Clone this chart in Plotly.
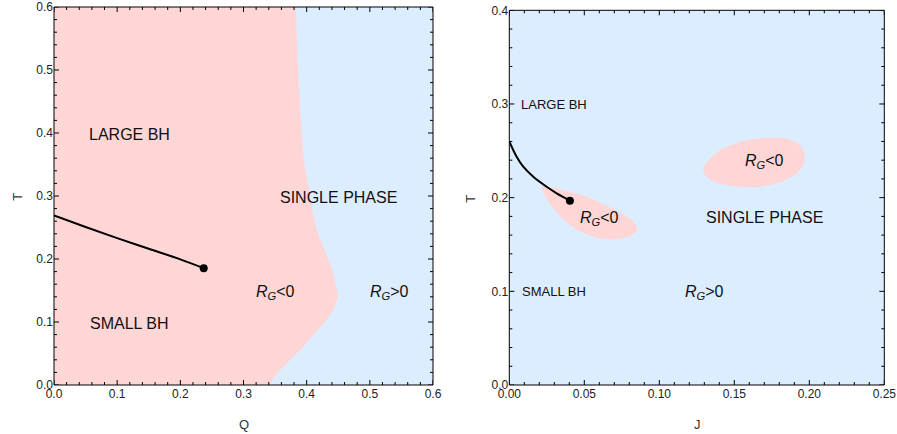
import plotly.graph_objects as go

W, H = 897, 434

# ---------------- data: left panel (Q, T) ----------------
boundary_T = [0.0, 0.020, 0.040, 0.060, 0.082, 0.100, 0.119, 0.140, 0.165, 0.188, 0.215, 0.241, 0.273, 0.294, 0.347, 0.400, 0.452, 0.506, 0.600]
boundary_Q = [0.340, 0.355, 0.374, 0.394, 0.413, 0.429, 0.442, 0.449, 0.445, 0.4385, 0.428, 0.418, 0.410, 0.407, 0.397, 0.392, 0.389, 0.386, 0.383]

coex_Q = [0.0, 0.05, 0.10, 0.15, 0.20, 0.237]
coex_T = [0.269, 0.2508, 0.2332, 0.2163, 0.1995, 0.1855]

# ---------------- data: right panel (J, T) ----------------
coexJ_J = [0.0, 0.0049, 0.0093, 0.016, 0.0249, 0.0316, 0.0404]
coexJ_T = [0.260, 0.2436, 0.2330, 0.2223, 0.2116, 0.2046, 0.1968]

blob1_J = [0.0216, 0.0338, 0.0471, 0.0605, 0.0738, 0.0827, 0.0853, 0.0805, 0.0693, 0.0583, 0.0471, 0.0360, 0.0271, 0.0216]
blob1_T = [0.2117, 0.2088, 0.2036, 0.1948, 0.1840, 0.1750, 0.1654, 0.1588, 0.1554, 0.1572, 0.1640, 0.1768, 0.1935, 0.2117]

blob2_J = [0.1293, 0.1338, 0.1427, 0.1560, 0.1693, 0.1849, 0.1938, 0.1971, 0.1960, 0.1916, 0.1805, 0.1649, 0.1516, 0.1383, 0.1305, 0.1293]
blob2_T = [0.2312, 0.2420, 0.2527, 0.2605, 0.2638, 0.2630, 0.2565, 0.2455, 0.2348, 0.2259, 0.2165, 0.2112, 0.2120, 0.2160, 0.2240, 0.2312]

# ---------------- ticks ----------------
left_x_major = [0.0, 0.1, 0.2, 0.3, 0.4, 0.5, 0.6]
left_x_labels = ["0.0", "0.1", "0.2", "0.3", "0.4", "0.5", "0.6"]
left_y_major = [0.0, 0.1, 0.2, 0.3, 0.4, 0.5, 0.6]
left_y_labels = ["0.0", "0.1", "0.2", "0.3", "0.4", "0.5", "0.6"]
right_x_major = [0.0, 0.05, 0.10, 0.15, 0.20, 0.25]
right_x_labels = ["0.00", "0.05", "0.10", "0.15", "0.20", "0.25"]
right_y_major = [0.0, 0.1, 0.2, 0.3, 0.4]
right_y_labels = ["0.0", "0.1", "0.2", "0.3", "0.4"]
left_x_minor = [round(0.02 * i, 4) for i in range(31) if i % 5 != 0]
left_y_minor = [round(0.02 * i, 4) for i in range(31) if i % 5 != 0]
right_x_minor = [round(0.01 * i, 4) for i in range(26) if i % 5 != 0]
right_y_minor = [round(0.02 * i, 4) for i in range(21) if i % 5 != 0]

RG_NEG = "<i>R</i><sub><i>G</i></sub>&lt;0"
RG_POS = "<i>R</i><sub><i>G</i></sub>&gt;0"

left_labels = [("LARGE BH", 0.120, 0.398, 16), ("SMALL BH", 0.120, 0.098, 16),
               ("SINGLE PHASE", 0.450, 0.297, 16), (RG_NEG, 0.350, 0.147, 16),
               (RG_POS, 0.531, 0.147, 16)]
right_labels = [("LARGE BH", 0.030, 0.299, 13), ("SMALL BH", 0.030, 0.0996, 13),
                ("SINGLE PHASE", 0.170, 0.179, 16), (RG_NEG, 0.060, 0.178, 16),
                (RG_NEG, 0.170, 0.239, 16), (RG_POS, 0.130, 0.0986, 16)]

PINK = "rgb(255,214,214)"
BLUE = "rgb(220,237,255)"
FRAME = "black"
FONT = "Liberation Sans, Arial, sans-serif"

fig = go.Figure()

# left pink region: fill from boundary horizontally to Q = 0
fig.add_trace(go.Scatter(x=boundary_Q, y=boundary_T, fill="tozerox", fillcolor=PINK, mode="lines",
                         line=dict(width=0, color=PINK, shape="spline", smoothing=0.6),
                         hoverinfo="skip", showlegend=False, xaxis="x", yaxis="y"))
fig.add_trace(go.Scatter(x=coex_Q, y=coex_T, mode="lines", line=dict(color="black", width=2, shape="spline"),
                         showlegend=False, xaxis="x", yaxis="y"))
fig.add_trace(go.Scatter(x=[coex_Q[-1]], y=[coex_T[-1]], mode="markers", marker=dict(color="black", size=8),
                         showlegend=False, xaxis="x", yaxis="y"))

# right pink blobs
for bj, bt in [(blob1_J, blob1_T), (blob2_J, blob2_T)]:
    fig.add_trace(go.Scatter(x=bj, y=bt, fill="toself", fillcolor=PINK, mode="lines",
                             line=dict(width=0, color=PINK, shape="spline", smoothing=0.7),
                             hoverinfo="skip", showlegend=False, xaxis="x2", yaxis="y2"))
fig.add_trace(go.Scatter(x=coexJ_J, y=coexJ_T, mode="lines", line=dict(color="black", width=2, shape="spline"),
                         showlegend=False, xaxis="x2", yaxis="y2"))
fig.add_trace(go.Scatter(x=[coexJ_J[-1]], y=[coexJ_T[-1]], mode="markers", marker=dict(color="black", size=8),
                         showlegend=False, xaxis="x2", yaxis="y2"))

def px_x(p):
    return p / W

def px_y(p):
    return (H - p) / H

fig.update_layout(template="none", width=W, height=H, margin=dict(l=0, r=0, t=0, b=0, autoexpand=False),
                  paper_bgcolor="white", plot_bgcolor=BLUE, showlegend=False)

axes_spec = {
    "xaxis": ([px_x(54), px_x(433)], [0, 0.6], left_x_major, left_x_labels, "y"),
    "yaxis": ([px_y(385), px_y(7)], [0, 0.6], left_y_major, left_y_labels, "x"),
    "xaxis2": ([px_x(509.3), px_x(884.3)], [0, 0.25], right_x_major, right_x_labels, "y2"),
    "yaxis2": ([px_y(385), px_y(10.3)], [0, 0.4], right_y_major, right_y_labels, "x2"),
}
for name, (dom, rng, tv, tt, anc) in axes_spec.items():
    fig.update_layout({name: dict(domain=dom, range=rng, tickmode="array", tickvals=tv, ticktext=tt,
                                  anchor=anc, automargin=False, showgrid=False, zeroline=False,
                                  showline=False, ticks="",
                                  tickfont=dict(family=FONT, size=12, color="#222"))})

# frame and tick marks, placed through the axes' own scales
shapes = []
def add_frame_and_ticks(xr, yr, xmaj, xmin, ymaj, ymin):
    shapes.append(dict(type="rect", xref=f"{xr} domain", yref=f"{yr} domain", x0=0, x1=1, y0=0, y1=1,
                       line=dict(color=FRAME, width=1), fillcolor="rgba(0,0,0,0)", layer="above"))
    for vals, ln in [(xmaj, 5), (xmin, 3)]:
        for v in vals:
            for anchor_, sign in [(0, 1), (1, -1)]:
                shapes.append(dict(type="line", xref=xr, yref=f"{yr} domain", x0=v, x1=v,
                                   ysizemode="pixel", yanchor=anchor_, y0=0, y1=sign * ln,
                                   line=dict(color=FRAME, width=1), layer="above"))
    for vals, ln in [(ymaj, 5), (ymin, 3)]:
        for v in vals:
            for anchor_, sign in [(0, 1), (1, -1)]:
                shapes.append(dict(type="line", yref=yr, xref=f"{xr} domain", y0=v, y1=v,
                                   xsizemode="pixel", xanchor=anchor_, x0=0, x1=sign * ln,
                                   line=dict(color=FRAME, width=1), layer="above"))

add_frame_and_ticks("x", "y", left_x_major, left_x_minor, left_y_major, left_y_minor)
add_frame_and_ticks("x2", "y2", right_x_major, right_x_minor, right_y_major, right_y_minor)
fig.update_layout(shapes=shapes)

annotations = []
for txt, x, y, s in left_labels:
    annotations.append(dict(text=txt, x=x, y=y, xref="x", yref="y", showarrow=False,
                            font=dict(family=FONT, size=s, color="#111")))
for txt, x, y, s in right_labels:
    annotations.append(dict(text=txt, x=x, y=y, xref="x2", yref="y2", showarrow=False,
                            font=dict(family=FONT, size=s, color="#111")))

# axis titles
for txt, x, y, ang in [("Q", 244, 424, 0), ("T", 16.7, 197, -90), ("J", 697, 424, 0), ("T", 470.7, 199, -90)]:
    annotations.append(dict(text=txt, x=px_x(x), y=px_y(y), xref="paper", yref="paper", showarrow=False,
                            textangle=ang, xanchor="center", yanchor="middle",
                            font=dict(family=FONT, size=13, color="#333")))
fig.update_layout(annotations=annotations)

fig.write_html("out.html")
